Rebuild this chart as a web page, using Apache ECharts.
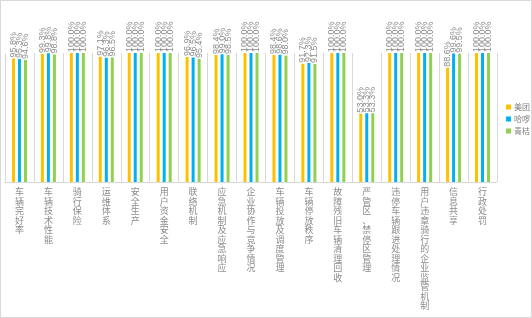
<!DOCTYPE html>
<html>
<head>
<meta charset="utf-8">
<script src="https://cdn.jsdelivr.net/npm/echarts@6/dist/echarts.min.js"></script>
<style>
html,body{margin:0;padding:0;background:#fff;}
#chart{width:532px;height:318px;box-sizing:border-box;border:1px solid #d9d9d9;}
</style>
</head>
<body>
<div id="chart"></div>
<script>
var categories = ['车辆完好率','车辆技术性能','骑行保险','运维体系','安全生产','用户资金安全','联络机制',
	'应急机制及应急响应','企业协作与竞争情况','车辆投放及调度管理','车辆停放秩序','故障残旧车辆清理回收',
	'严管区、禁停区管理','违停车辆跟进处理情况','用户违章骑行的企业监管机制','信息共享','行政处罚'];
var seriesNames = ['美团','哈啰','青桔'];
var meituan = [95.8,99.3,100,97.1,100,100,96.9,98.4,100,98.4,91.7,100,53.0,100,100,88.6,100];
var hellobike = [95.3,99.8,100,96.3,100,100,96.5,99.0,100,98.6,92.3,100,53.3,100,100,99.6,100];
var qingju = [94.6,98.8,100,96.5,100,100,95.4,98.5,100,98.0,91.5,100,53.3,100,100,99.5,100];
var colors = ['#FFC000','#00B0F0','#92D050'];

var chart = echarts.init(document.getElementById('chart'));

function bar(name, data, color){
	return {
		name: name,
		type: 'bar',
		data: data,
		barWidth: 3,
		barGap: '100%',
		itemStyle: {color: color},
		label: {
			show: true,
			position: 'top',
			rotate: 90,
			align: 'left',
			verticalAlign: 'middle',
			distance: 1,
			fontSize: 9,
			color: '#8c8c8c',
			fontFamily: 'Liberation Sans',
			formatter: function(p){ return p.value.toFixed(1) + '%'; }
		}
	};
}

chart.setOption({
	animation: false,
	legend: {
		orient: 'vertical',
		left: 500,
		top: 97,
		itemWidth: 5,
		itemHeight: 5,
		itemGap: 4,
		icon: 'rect',
		data: seriesNames,
		textStyle: {fontSize: 8, color: '#7f7f7f', fontFamily: 'Noto Sans CJK SC', padding: [0,0,0,-2]}
	},
	grid: {left: 4, right: 34, top: 52, bottom: 135},
	xAxis: {
		type: 'category',
		data: categories,
		axisTick: {show: false},
		axisLine: {lineStyle: {color: '#d9d9d9'}},
		splitLine: {show: true, lineStyle: {color: '#d9d9d9'}},
		axisLabel: {
			interval: 0,
			margin: 5,
			fontSize: 9,
			lineHeight: 9.5,
			color: '#8c8c8c',
			fontFamily: 'Noto Sans CJK SC',
			formatter: function(v){ return v.split('').join('\n'); }
		}
	},
	yAxis: {
		type: 'value',
		min: 0,
		max: 100,
		show: false,
		splitLine: {show: false}
	},
	series: [
		bar(seriesNames[0], meituan, colors[0]),
		bar(seriesNames[1], hellobike, colors[1]),
		bar(seriesNames[2], qingju, colors[2])
	]
});
</script>
</body>
</html>
